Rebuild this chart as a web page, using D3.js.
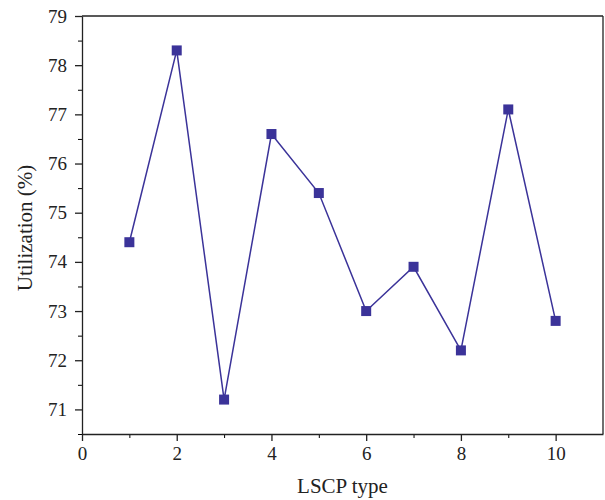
<!DOCTYPE html>
<html>
<head>
<meta charset="utf-8">
<script src="https://cdn.jsdelivr.net/npm/d3@7"></script>
<style>
  body { margin: 0; background: #fff; }
  text { font-family: "Liberation Serif", "DejaVu Serif", serif; fill: #222; }
</style>
</head>
<body>
<svg id="chart" width="605" height="500"></svg>
<script>
// 数据
var types = [1, 2, 3, 4, 5, 6, 7, 8, 9, 10];
var utilization = [74.4, 78.3, 71.2, 76.6, 75.4, 73.0, 73.9, 72.2, 77.1, 72.8];
var xTicks = [0, 2, 4, 6, 8, 10];
var yTicks = [71, 72, 73, 74, 75, 76, 77, 78, 79];

var margin = { left: 82, right: 2, top: 16, bottom: 66 };
var width = 605 - margin.left - margin.right;
var height = 500 - margin.top - margin.bottom;
var color = "#3b3399";

var svg = d3.select("#chart");
var g = svg.append("g").attr("transform", `translate(${margin.left},${margin.top})`);

var x = d3.scaleLinear().domain([0, 11]).range([0, width]);
var y = d3.scaleLinear().domain([70.5, 79]).range([height, 0]);

// 次刻度
g.append("g")
    .attr("transform", `translate(0,${height})`)
    .call(d3.axisBottom(x).tickValues(d3.range(1, 11, 2)).tickSize(4).tickFormat(""))
    .call(a => a.select(".domain").remove());
g.append("g")
    .call(d3.axisLeft(y).tickValues(d3.range(70.5, 79, 1)).tickSize(4).tickFormat(""))
    .call(a => a.select(".domain").remove());

// 主刻度
var xAxis = g.append("g")
    .attr("transform", `translate(0,${height})`)
    .call(d3.axisBottom(x).tickValues(xTicks).tickSize(7).tickPadding(6).tickSizeOuter(0));
var yAxis = g.append("g")
    .call(d3.axisLeft(y).tickValues(yTicks).tickSize(7).tickPadding(8).tickSizeOuter(0));

[xAxis, yAxis].forEach(a => {
    a.selectAll("text").style("font-size", "19px").attr("fill", "#222");
    a.selectAll("line, path").attr("stroke", "#222").attr("stroke-width", 1.3);
});

// 上、右边框
g.append("line").attr("x1", 0).attr("x2", width).attr("y1", 0).attr("y2", 0)
    .attr("stroke", "#222").attr("stroke-width", 1.3);
g.append("line").attr("x1", width).attr("x2", width).attr("y1", 0).attr("y2", height)
    .attr("stroke", "#222").attr("stroke-width", 1.3);

var data = types.map((t, i) => ({ t: t, v: utilization[i] }));

g.append("path")
    .datum(data)
    .attr("fill", "none")
    .attr("stroke", color)
    .attr("stroke-width", 1.5)
    .attr("d", d3.line().x(d => x(d.t)).y(d => y(d.v)));

g.selectAll("rect.pt")
    .data(data)
    .join("rect")
    .attr("class", "pt")
    .attr("x", d => x(d.t) - 5)
    .attr("y", d => y(d.v) - 5)
    .attr("width", 10)
    .attr("height", 10)
    .attr("fill", color);

// 轴标题
svg.append("text")
    .attr("x", margin.left + x(5.5))
    .attr("y", 493)
    .attr("text-anchor", "middle")
    .style("font-size", "21px")
    .text("LSCP type");

svg.append("text")
    .attr("transform", `translate(32,228) rotate(-90)`)
    .attr("text-anchor", "middle")
    .style("font-size", "21px")
    .text("Utilization (%)");
</script>
</body>
</html>
